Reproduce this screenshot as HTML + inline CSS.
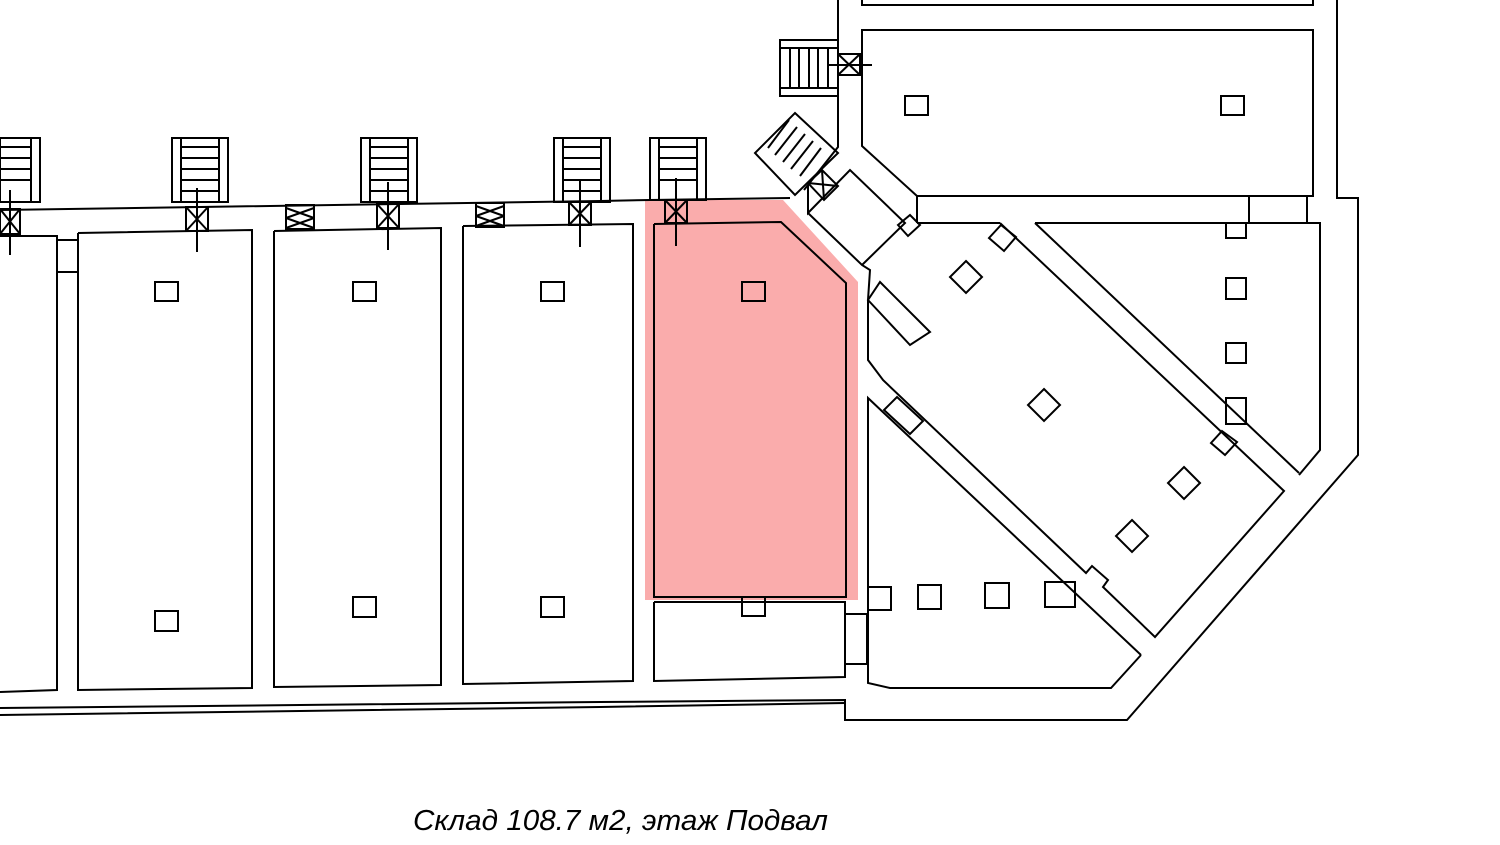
<!DOCTYPE html>
<html><head><meta charset="utf-8"><style>
html,body{margin:0;padding:0;background:#fff;width:1500px;height:845px;overflow:hidden}
svg{display:block}
</style></head><body>
<svg width="1500" height="845" viewBox="0 0 1500 845" xmlns="http://www.w3.org/2000/svg">
<polygon points="645,200 783,200 858,282 858,600 645,600" fill="#f9a3a3" opacity="0.9"/>
<g fill="none" stroke="#000" stroke-width="2">
<polyline points="0,210 200,207 400,204 600,201 650,200 790,198"/>
<g>
<rect x="0" y="138" width="40" height="64"/>
<line x1="31" y1="138" x2="31" y2="202"/>
<line x1="0" y1="147" x2="31" y2="147"/><line x1="0" y1="158" x2="31" y2="158"/><line x1="0" y1="169" x2="31" y2="169"/><line x1="0" y1="180" x2="31" y2="180"/>
</g>
<g>
<rect x="172" y="138" width="56" height="64"/>
<line x1="181" y1="138" x2="181" y2="202"/><line x1="219" y1="138" x2="219" y2="202"/>
<line x1="181" y1="147" x2="219" y2="147"/><line x1="181" y1="158" x2="219" y2="158"/><line x1="181" y1="169" x2="219" y2="169"/><line x1="181" y1="180" x2="219" y2="180"/><line x1="181" y1="191" x2="219" y2="191"/>
</g>
<g>
<rect x="361" y="138" width="56" height="64"/>
<line x1="370" y1="138" x2="370" y2="202"/><line x1="408" y1="138" x2="408" y2="202"/>
<line x1="370" y1="147" x2="408" y2="147"/><line x1="370" y1="158" x2="408" y2="158"/><line x1="370" y1="169" x2="408" y2="169"/><line x1="370" y1="180" x2="408" y2="180"/><line x1="370" y1="191" x2="408" y2="191"/>
</g>
<g>
<rect x="554" y="138" width="56" height="64"/>
<line x1="563" y1="138" x2="563" y2="202"/><line x1="601" y1="138" x2="601" y2="202"/>
<line x1="563" y1="147" x2="601" y2="147"/><line x1="563" y1="158" x2="601" y2="158"/><line x1="563" y1="169" x2="601" y2="169"/><line x1="563" y1="180" x2="601" y2="180"/><line x1="563" y1="191" x2="601" y2="191"/>
</g>
<g>
<rect x="650" y="138" width="56" height="62"/>
<line x1="659" y1="138" x2="659" y2="200"/><line x1="697" y1="138" x2="697" y2="200"/>
<line x1="659" y1="147" x2="697" y2="147"/><line x1="659" y1="158" x2="697" y2="158"/><line x1="659" y1="169" x2="697" y2="169"/><line x1="659" y1="180" x2="697" y2="180"/>
</g>
<rect x="0" y="209" width="20" height="25"/><line x1="0" y1="209" x2="20" y2="234"/><line x1="20" y1="209" x2="0" y2="234"/><line x1="10" y1="190" x2="10" y2="255"/>
<rect x="186" y="207" width="22" height="24"/><line x1="186" y1="207" x2="208" y2="231"/><line x1="208" y1="207" x2="186" y2="231"/><line x1="197" y1="188" x2="197" y2="252"/>
<rect x="286" y="205" width="28" height="24"/><line x1="286" y1="208" x2="314" y2="218"/><line x1="314" y1="208" x2="286" y2="218"/><line x1="286" y1="218" x2="314" y2="228"/><line x1="314" y1="218" x2="286" y2="228"/>
<rect x="377" y="204" width="22" height="24"/><line x1="377" y1="204" x2="399" y2="228"/><line x1="399" y1="204" x2="377" y2="228"/><line x1="388" y1="182" x2="388" y2="250"/>
<rect x="476" y="203" width="28" height="24"/><line x1="476" y1="206" x2="504" y2="216"/><line x1="504" y1="206" x2="476" y2="216"/><line x1="476" y1="216" x2="504" y2="226"/><line x1="504" y1="216" x2="476" y2="226"/>
<rect x="569" y="202" width="22" height="23"/><line x1="569" y1="202" x2="591" y2="225"/><line x1="591" y1="202" x2="569" y2="225"/><line x1="580" y1="180" x2="580" y2="247"/>
<rect x="665" y="200" width="22" height="23"/><line x1="665" y1="200" x2="687" y2="223"/><line x1="687" y1="200" x2="665" y2="223"/><line x1="676" y1="178" x2="676" y2="246"/>
<polyline points="0,236 57,236 57,690 0,692"/>
<rect x="57" y="240" width="21" height="32"/>
<polyline points="78,233 252,230 252,688 78,690 78,233"/>
<polyline points="274,231 441,228 441,685 274,687 274,231"/>
<polyline points="463,226 633,224 633,681 463,684 463,226"/>
<polyline points="654,224 781,222 846,283 846,597 654,597 654,224"/>
<polyline points="654,602 845,602 845,677 654,681 654,602"/>
<rect x="845" y="614" width="22" height="50"/>
<polyline points="0,708 300,705 600,702 845,700 845,720 1127,720 1358,455 1358,198 1337,198 1337,0"/>
<polyline points="0,715 300,711 600,707 845,703"/>
<polyline points="838,0 838,147 804,190"/>
<polyline points="862,0 862,5 1313,5 1313,0"/>
<polygon points="862,30 1313,30 1313,196 917,196 862,146"/>
<polyline points="1249,196 1249,223"/><polyline points="1307,196 1307,223"/>
<polyline points="917,196 917,223"/>
<rect x="780" y="40" width="58" height="56"/>
<line x1="780" y1="48" x2="838" y2="48"/><line x1="780" y1="88" x2="838" y2="88"/>
<line x1="790" y1="48" x2="790" y2="88"/><line x1="799" y1="48" x2="799" y2="88"/><line x1="809" y1="48" x2="809" y2="88"/><line x1="818" y1="48" x2="818" y2="88"/><line x1="828" y1="48" x2="828" y2="88"/>
<rect x="838" y="54" width="22" height="21"/><line x1="838" y1="54" x2="860" y2="75"/><line x1="860" y1="54" x2="838" y2="75"/><line x1="828" y1="65" x2="872" y2="65"/>
<polygon points="795,113 838,153 795,195 755,153"/>
<line x1="789" y1="120" x2="768" y2="148"/><line x1="797" y1="127" x2="775" y2="155"/><line x1="805" y1="134" x2="783" y2="162"/><line x1="813" y1="141" x2="791" y2="169"/><line x1="821" y1="148" x2="800" y2="176"/>
<polygon points="808,183 822,170 838,186 824,200"/><line x1="808" y1="183" x2="838" y2="186"/><line x1="822" y1="170" x2="824" y2="200"/>
<polyline points="808,185 808,213 850,170 905,223 862,265"/>
<polyline points="808,213 862,265 870,270 868,300"/>
<polygon points="898,225 910,215 920,225 908,236"/>
<polygon points="868,300 910,345 930,332 880,282"/>
<polyline points="917,223 1000,223"/>
<polyline points="1035,223 1320,223 1320,450 1299,475"/>
<polyline points="1000,223 1284,491 1155,637 1103,587 1108,580 1092,566 1086,573 883,380 868,360 868,300"/>
<line x1="1035" y1="223" x2="1299" y2="473"/>
<polyline points="1141,655 868,398 868,683 890,688 1111,688 1141,655"/>
<polygon points="884,410 897,397 923,421 910,434"/>
<rect x="155" y="282" width="23" height="19"/><rect x="353" y="282" width="23" height="19"/><rect x="541" y="282" width="23" height="19"/><rect x="742" y="282" width="23" height="19"/>
<rect x="155" y="611" width="23" height="20"/><rect x="353" y="597" width="23" height="20"/><rect x="541" y="597" width="23" height="20"/><rect x="742" y="597" width="23" height="19"/>
<rect x="905" y="96" width="23" height="19"/><rect x="1221" y="96" width="23" height="19"/>
<rect x="1226" y="223" width="20" height="15"/><rect x="1226" y="278" width="20" height="21"/><rect x="1226" y="343" width="20" height="20"/><rect x="1226" y="398" width="20" height="26"/>
<rect x="868" y="587" width="23" height="23"/><rect x="918" y="585" width="23" height="24"/><rect x="985" y="583" width="24" height="25"/><rect x="1045" y="582" width="30" height="25"/>
<polygon points="966,261 982,277 966,293 950,277"/>
<polygon points="1044,389 1060,405 1044,421 1028,405"/>
<polygon points="1184,467 1200,483 1184,499 1168,483"/>
<polygon points="1132,520 1148,536 1132,552 1116,536"/>
<polygon points="1001,225 1016,237 1004,251 989,238"/>
<polygon points="1222,431 1237,442 1225,455 1211,443"/>
</g>
<text x="413" y="830" font-family="'Liberation Sans','DejaVu Sans',sans-serif" font-style="italic" font-size="29" fill="#000" textLength="415" lengthAdjust="spacingAndGlyphs">Склад 108.7 м2, этаж Подвал</text>
</svg>
</body></html>
